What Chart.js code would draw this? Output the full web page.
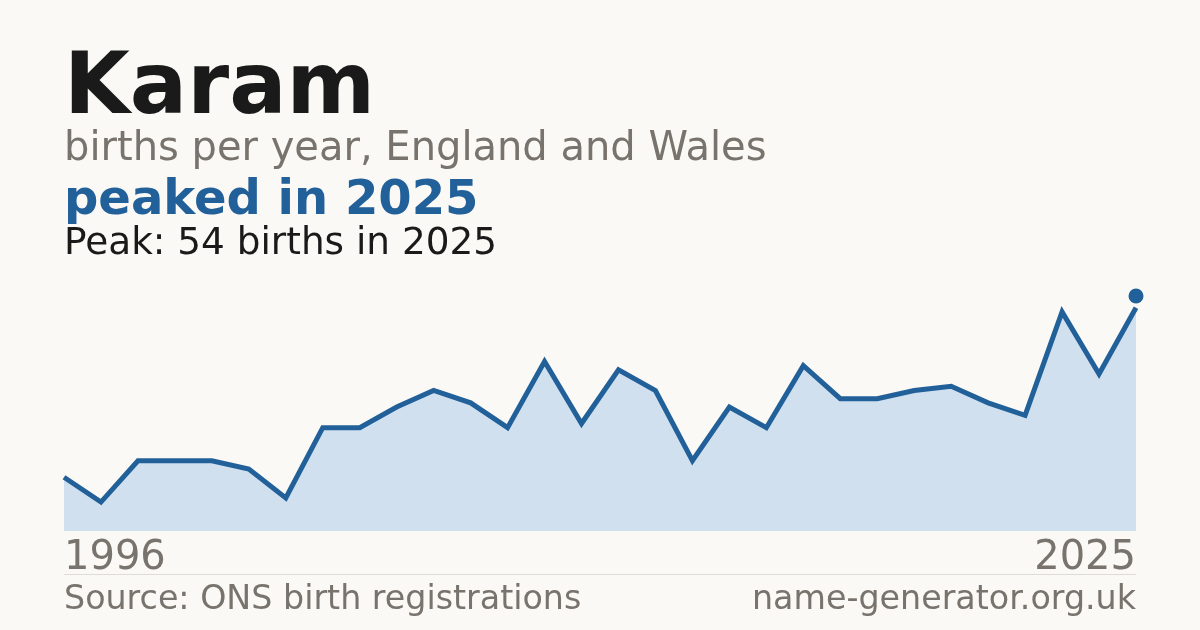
<!DOCTYPE html>
<html>
<head>
<meta charset="utf-8">
<script src="https://cdn.jsdelivr.net/npm/chart.js@4.4.1/dist/chart.umd.min.js"></script>
<style>
  html, body { margin: 0; padding: 0; background: #faf9f5; }
  body { width: 1200px; height: 630px; position: relative; overflow: hidden; font-family: "DejaVu Sans", sans-serif; }
  #chart { position: absolute; left: 0; top: 0; }
  .txt { position: absolute; left: 64px; line-height: 1; white-space: nowrap; }
  #name { top: 41px; font-size: 85px; font-weight: bold; color: #1a1a1a; }
  #sub { top: 126px; font-size: 40px; color: #78736c; }
  #headline { top: 173px; font-size: 48px; font-weight: bold; color: #22609a; }
  #peak { top: 223px; font-size: 37.4px; color: #1a1a1a; }
  #rule { position: absolute; left: 64px; width: 1072px; top: 574px; border-top: 1px solid #dedcd6; }
  .foot { top: 581px; font-size: 33.3px; color: #78736c; }
  #site { left: auto; right: 64px; }
</style>
</head>
<body>
<canvas id="chart" width="1200" height="630"></canvas>
<div class="txt" id="name">Karam</div>
<div class="txt" id="sub">births per year, England and Wales</div>
<div class="txt" id="headline"></div>
<div class="txt" id="peak"></div>
<div id="rule"></div>
<div class="txt foot" id="source">Source: ONS birth registrations</div>
<div class="txt foot" id="site">name-generator.org.uk</div>
<script>
const years = [1996, 1997, 1998, 1999, 2000, 2001, 2002, 2003, 2004, 2005,
  2006, 2007, 2008, 2009, 2010, 2011, 2012, 2013, 2014, 2015,
  2016, 2017, 2018, 2019, 2020, 2021, 2022, 2023, 2024, 2025]
const births = [13, 7, 17, 17, 17, 15, 8, 25, 25, 30,
  34, 31, 25, 41, 26, 39, 34, 17, 30, 25,
  40, 32, 32, 34, 35, 31, 28, 53, 38, 54]

const peakValue = Math.max(...births)
const peakIndex = births.lastIndexOf(peakValue)
const peakYear = years[peakIndex]

document.getElementById("headline").textContent = `peaked in ${peakYear}`
document.getElementById("peak").textContent = `Peak: ${peakValue} births in ${peakYear}`

const ctx = document.getElementById("chart").getContext("2d")
new Chart(ctx, {
  type: "line",
  data: {
    labels: years.map(String),
    datasets: [
      {
        data: births,
        borderColor: "#22609a",
        borderWidth: 5,
        backgroundColor: "#d0e0ef",
        fill: "origin",
        tension: 0,
        pointRadius: 0,
        clip: false
      },
      {
        data: births.map((v, i) => (i === peakIndex ? v : null)),
        yAxisID: "y2",
        showLine: false,
        pointRadius: 7.5,
        pointBackgroundColor: "#22609a",
        pointBorderWidth: 0,
        clip: false
      }
    ]
  },
  options: {
    responsive: false,
    animation: false,
    layout: { padding: { left: 64, right: 64, top: 283, bottom: 43 } },
    scales: {
      x: {
        grid: { display: false, drawTicks: false },
        border: { display: false },
        ticks: {
          autoSkip: false,
          maxRotation: 0,
          align: "inner",
          padding: 4,
          color: "#78736c",
          font: { family: "DejaVu Sans", size: 40 },
          callback: function (value, index) {
            return index === 0 || index === years.length - 1 ? years[index] : ""
          }
        }
      },
      y: { display: false, min: 0, max: 60 },
      y2: { display: false, min: 0, max: 57 }
    },
    plugins: {
      legend: { display: false },
      tooltip: { enabled: false }
    }
  }
})
</script>
</body>
</html>
